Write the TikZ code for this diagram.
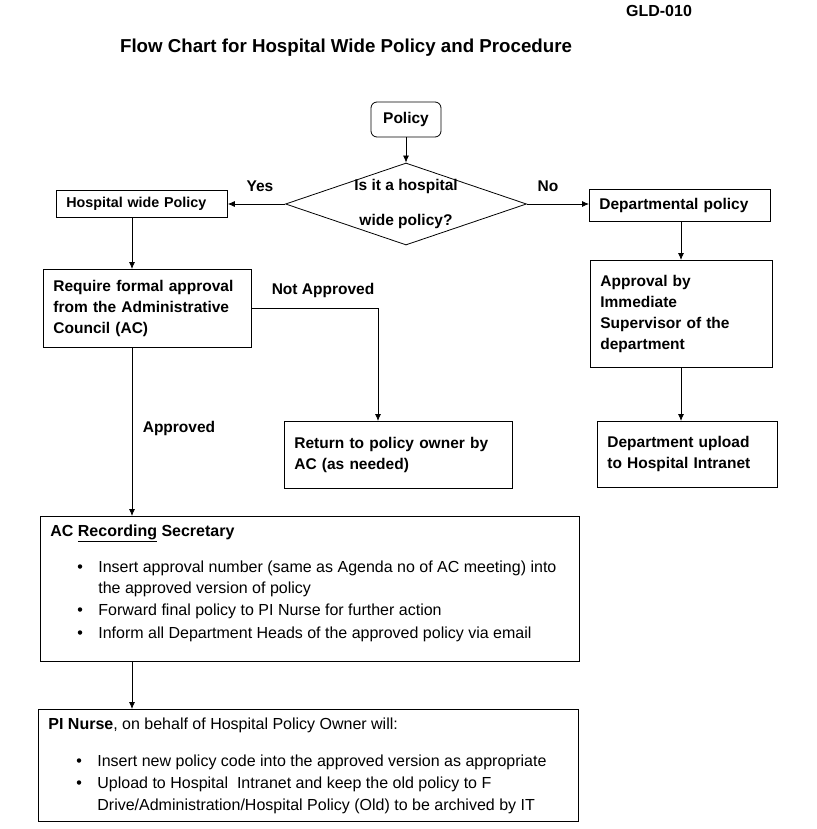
\documentclass[tikz,border=0pt]{standalone}
\usepackage{fontspec}
\setmainfont{Liberation Sans}
\usetikzlibrary{shapes.geometric,arrows.meta}

\tikzset{
	box/.style={draw, rectangle, anchor=north west, inner xsep=10pt, inner ysep=0pt, align=left, font=\bfseries\fontsize{15.5}{21}\selectfont},
	frame/.style={draw, rectangle, anchor=north west, inner sep=0pt},
	lbl/.style={font=\bfseries\fontsize{15.5}{18}\selectfont, inner sep=0pt},
	txt/.style={font=\fontsize{16}{19}\selectfont, anchor=base west, inner sep=0pt},
	dot/.style={circle, fill, inner sep=0pt, minimum size=4.5pt},
	arr/.style={-{Latex[length=7pt,width=6pt]}}
}

\begin{document}
\begin{tikzpicture}[x=1pt,y=-1pt,line width=0.8pt]
	\useasboundingbox (0,0) rectangle (816,829);
	% headings
	\node[lbl, font=\bfseries\fontsize{16}{19}\selectfont] (code) at (659,11) {GLD-010};
	\node[lbl, font=\bfseries\fontsize{18.7}{22}\selectfont] (title) at (346,48) {Flow Chart for Hospital Wide Policy and Procedure};
	% top of the chart
	\node[draw, rounded corners=6pt, minimum width=70pt, minimum height=35pt, lbl] (pol) at (406,119.5) {Policy};
	\node[draw, diamond, minimum width=241pt, minimum height=82pt, inner sep=0pt] (q) at (406,204) {};
	\node[lbl, align=center, font=\bfseries\fontsize{15.5}{35}\selectfont] (qtxt) at (q.center) {Is it a hospital\\wide policy?};
	\node[box, text width=151pt, minimum height=27pt, font=\bfseries\fontsize{14.3}{17}\selectfont] (hwp) at (56,190) {Hospital wide Policy};
	\node[box, text width=161pt, minimum height=32pt] (dep) at (589,189) {Departmental policy};
	% left branch
	\node[box, text width=188pt, minimum height=78pt] (req) at (43,269) {Require formal approval\\from the Administrative\\Council (AC)};
	\node[box, text width=208pt, minimum height=67pt] (ret) at (284,421) {Return to policy owner by\\AC (as needed)};
	% right branch
	\node[box, text width=162pt, minimum height=107pt] (appr) at (590,260) {Approval by\\Immediate\\Supervisor of the\\department};
	\node[box, text width=160pt, minimum height=66pt] (upl) at (597,421) {Department upload\\to Hospital Intranet};
	% big boxes
	\node[frame, minimum width=539pt, minimum height=145pt] (sec) at (40,516) {};
	\node[frame, minimum width=540pt, minimum height=112pt] (pin) at (38,709) {};
	\node[txt] (sec0) at (50,536) {\textbf{AC \underline{Recording} Secretary}};
	\node[txt] (sec1) at (98,572) {Insert approval number (same as Agenda no of AC meeting) into};
	\node[txt] (sec2) at (98,593) {the approved version of policy};
	\node[txt] (sec3) at (98,615) {Forward final policy to PI Nurse for further action};
	\node[txt] (sec4) at (98,638) {Inform all Department Heads of the approved policy via email};
	\foreach \y in {572,615,638}
		\node[dot] (bs\y) at (80,\y-5.5) {};
	\node[txt] (pin0) at (48,729) {\textbf{PI Nurse}, on behalf of Hospital Policy Owner will:};
	\node[txt] (pin1) at (97,766) {Insert new policy code into the approved version as appropriate};
	\node[txt] (pin2) at (97,788) {Upload to Hospital\ \ Intranet and keep the old policy to F};
	\node[txt] (pin3) at (97,810) {Drive/Administration/Hospital Policy (Old) to be archived by IT};
	\foreach \y in {766,788}
		\node[dot] (bp\y) at (79,\y-5.5) {};
	% labels on the arrows
	\node[lbl] (yes) at (260,186) {Yes};
	\node[lbl] (no) at (548,186) {No};
	\node[lbl] (nap) at (323,290) {Not Approved};
	\node[lbl] (ap) at (179,428) {Approved};
	% arrows
	\coordinate (lspine) at (132,0);
	\coordinate (nspine) at (378,0);
	\coordinate (rspine) at (681,0);
	\draw[arr] (pol) -- (q);
	\draw[arr] (q.west) -- (q.west -| hwp.east);
	\draw[arr] (q.east) -- (q.east -| dep.west);
	\draw[arr] (hwp.south -| lspine) -- (req.north -| lspine);
	\draw[arr] (req.east) -| (ret.north -| nspine);
	\draw[arr] (req.south -| lspine) -- (sec.north -| lspine);
	\draw[arr] (sec.south -| lspine) -- (pin.north -| lspine);
	\draw[arr] (dep.south -| rspine) -- (appr.north -| rspine);
	\draw[arr] (appr.south -| rspine) -- (upl.north -| rspine);
\end{tikzpicture}
\end{document}
